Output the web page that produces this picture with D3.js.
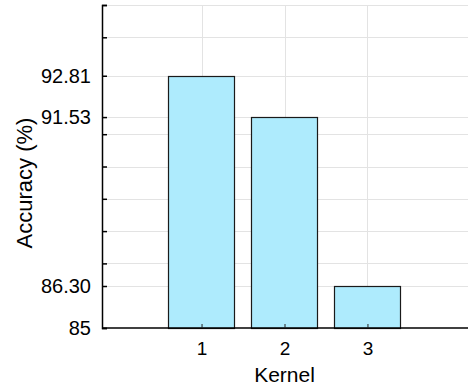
<!DOCTYPE html>
<html>
<head>
<meta charset="utf-8">
<script src="https://cdn.jsdelivr.net/npm/d3@7"></script>
<style>
  html, body { margin: 0; padding: 0; background: #fff; }
  svg { display: block; font-family: "Liberation Sans", Arial, sans-serif; }
</style>
</head>
<body>
<svg id="chart" width="468" height="389"></svg>
<script>
// Accuracy per kernel size
const kernels = [1, 2, 3];
const accuracy = [92.81, 91.53, 86.30];

// Labelled y ticks and the full set of grid/tick positions
const yTickLabels = [85, 86.30, 91.53, 92.81];
const yGridValues = [85, 86.30, 87, 88, 89, 90, 91, 91.53, 92.81, 94, 95];

const svg = d3.select("#chart");
const margin = { left: 102, top: 5, bottom: 61 };
const H = 389;

const x = d3.scaleLinear().domain([-0.2, 4.2]).range([102, 467]);
const y = d3.scaleLinear().domain([85, 95]).range([H - margin.bottom, margin.top]);
const barW = x(0.8) - x(0);

// grid
const grid = svg.append("g");
grid.selectAll("line.h").data(yGridValues.filter(v => v !== 85)).join("line")
  .attr("x1", x(-0.2)).attr("x2", 468)
  .attr("y1", d => Math.round(y(d)) + 0.5).attr("y2", d => Math.round(y(d)) + 0.5)
  .attr("stroke", "#e3e3e3").attr("stroke-width", 1);
grid.selectAll("line.v").data(kernels).join("line")
  .attr("x1", d => Math.round(x(d)) + 0.5).attr("x2", d => Math.round(x(d)) + 0.5)
  .attr("y1", y(95)).attr("y2", y(85))
  .attr("stroke", "#e3e3e3").attr("stroke-width", 1);

// bars
svg.append("g").selectAll("rect").data(kernels).join("rect")
  .attr("x", (d) => Math.round(x(d) - barW / 2) + 0.5)
  .attr("width", Math.round(barW))
  .attr("y", (d, i) => Math.round(y(accuracy[i])) + 0.5)
  .attr("height", (d, i) => Math.round(y(85)) - Math.round(y(accuracy[i])))
  .attr("fill", "#aeebfd")
  .attr("stroke", "#1a1a1a").attr("stroke-width", 1.2);

// y axis
const yAxis = d3.axisLeft(y)
  .tickValues(yGridValues)
  .tickSize(-5)
  .tickPadding(11)
  .tickFormat(d => {
    const lab = yTickLabels.find(v => Math.abs(v - d) < 1e-9);
    if (lab === undefined) return "";
    return lab === 85 ? "85" : d3.format(".2f")(lab);
  });
svg.append("g").attr("transform", `translate(${x(-0.2)},0)`).call(yAxis)
  .call(g => g.select(".domain").attr("stroke", "#000").attr("stroke-width", 1.5))
  .call(g => g.selectAll(".tick line").attr("stroke", "#000").attr("stroke-width", 1.5))
  .call(g => g.selectAll(".tick text").attr("font-size", 20).attr("fill", "#000")
    .attr("font-family", "Liberation Sans, Arial, sans-serif"));

// x axis
const xAxis = d3.axisBottom(x)
  .tickValues(kernels)
  .tickSize(-4)
  .tickPadding(14)
  .tickFormat(d3.format("d"));
svg.append("g").attr("transform", `translate(0,${y(85)})`).call(xAxis)
  .call(g => g.select(".domain").attr("stroke", "#000").attr("stroke-width", 1.5)
    .attr("d", `M${x(-0.2)},0H468`))
  .call(g => g.selectAll(".tick line").attr("stroke", "#222").attr("stroke-width", 1))
  .call(g => g.selectAll(".tick text").attr("font-size", 19).attr("fill", "#000")
    .attr("font-family", "Liberation Sans, Arial, sans-serif"));

// axis titles
svg.append("text")
  .attr("x", x(2)).attr("y", 382)
  .attr("text-anchor", "middle")
  .attr("font-size", 21).attr("fill", "#000")
  .text("Kernel");

svg.append("text")
  .attr("transform", `translate(32,183) rotate(-90)`)
  .attr("text-anchor", "middle")
  .attr("font-size", 22).attr("fill", "#000")
  .text("Accuracy (%)");
</script>
</body>
</html>
